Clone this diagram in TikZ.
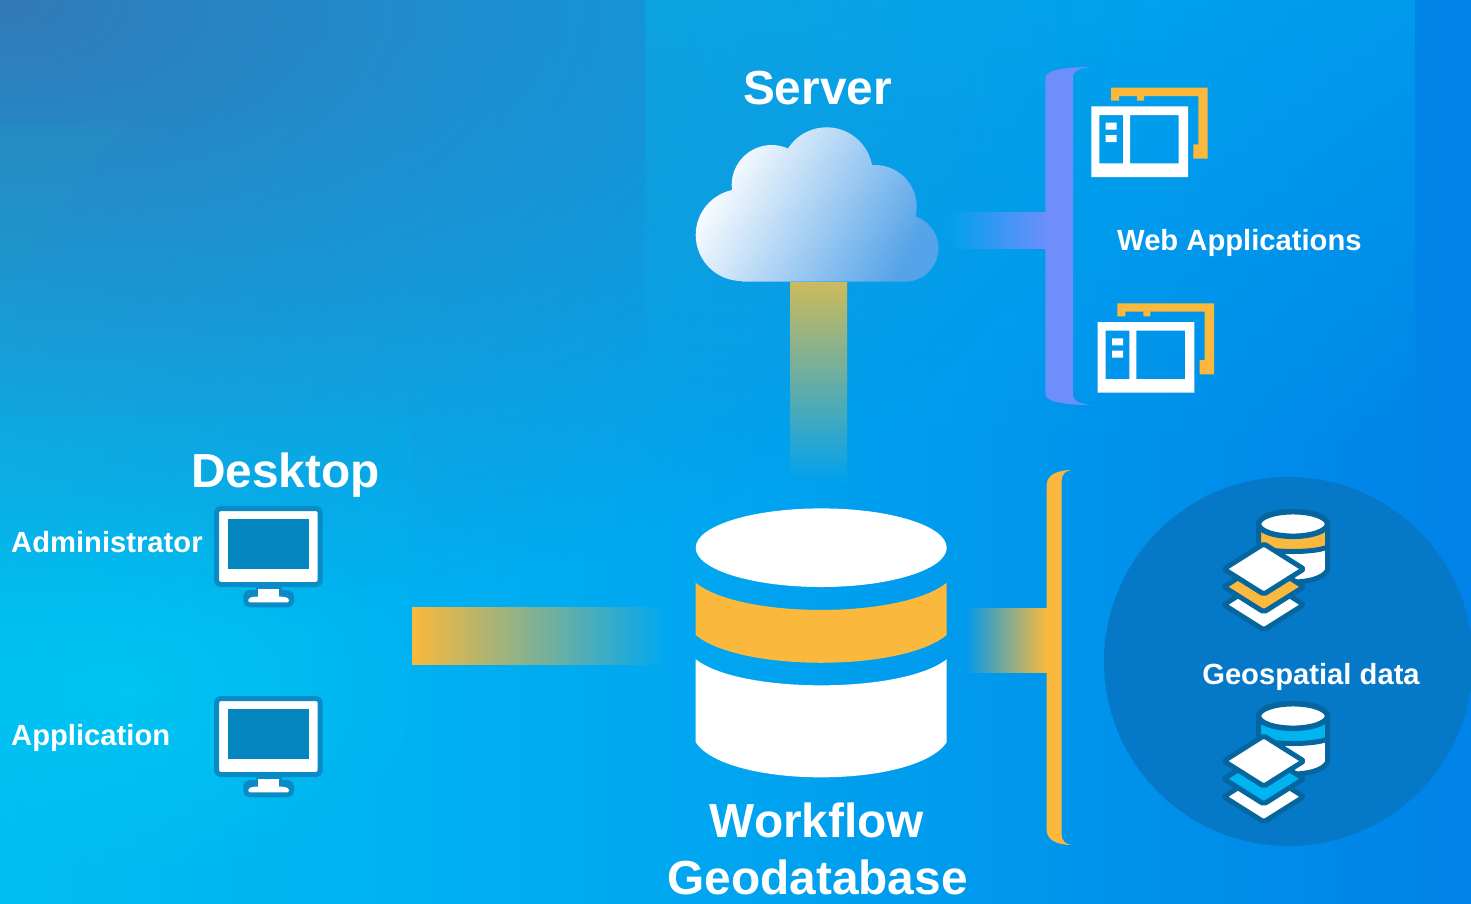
\documentclass[tikz,border=0pt]{standalone}
\usepackage{fontspec}
\setmainfont{Liberation Sans}
\usetikzlibrary{fadings}
\definecolor{accentorange}{HTML}{FAB93C}
\definecolor{accentpurple}{HTML}{6E8EFB}
\definecolor{skycyan}{HTML}{00B4F0}
\definecolor{monline}{HTML}{0A8BC6}
\definecolor{monscreen}{HTML}{0585BE}
\definecolor{stackline}{HTML}{05659E}
\definecolor{stackdisc}{HTML}{0579C8}
\definecolor{backleft}{HTML}{00BEF2}
\definecolor{backmid}{HTML}{00A8F0}
\definecolor{backright}{HTML}{0082E8}
\definecolor{cornerblue}{HTML}{3575B5}
\definecolor{cornerteal}{HTML}{1EA0BE}
\definecolor{glowcyan}{HTML}{00CDF5}
\definecolor{panelcyan}{HTML}{00B9F0}
\definecolor{serverbartop}{HTML}{CDBA5C}
\definecolor{serverbarend}{HTML}{00A1EE}
\definecolor{storebarend}{HTML}{009AED}
\definecolor{appbarend}{HTML}{00A0ED}
\definecolor{cloudblue}{HTML}{55A3E8}
\tikzfading[name=cornerfade, inner color=transparent!0, outer color=transparent!100]
\tikzfading[name=panelfade, top color=transparent!0, bottom color=transparent!100]
\tikzset{
  bigtitle/.style={text=white, font=\bfseries\fontsize{47.8}{50}\selectfont, anchor=base, inner sep=0pt},
  smalltitle/.style={text=white, font=\bfseries\fontsize{29.2}{32}\selectfont, anchor=base, inner sep=0pt},
  pics/monitor/.style={code={
    \draw[line width=5pt, draw=monline, fill=monline, rounded corners=4pt] (31.8,86.5) rectangle (77.5,98.8);
    \fill[white, rounded corners=1.5pt] (34.3,96.3) -- (34.3,92.5) -- (39,90.7) -- (70,90.7) -- (75,92.5) -- (75,96.3) -- cycle;
    \draw[line width=5pt, draw=monline, fill=white, rounded corners=4pt] (2.5,2.5) rectangle (106.2,78.5);
    \fill[monscreen] (13.7,13.3) rectangle (95.3,63.3);
    \fill[monline] (41.8,81) rectangle (67.8,90);
    \fill[white] (44.3,83) rectangle (65.3,92);
  }},
  pics/webapp/.style={code={
    \fill[accentorange] (20,.7) -- (116.7,.7) -- (116.7,71.7) -- (102.3,71.7) -- (102.3,57.3) -- (107.3,57.3) -- (107.3,9)
      -- (53,9) -- (53,13.7) -- (46,13.7) -- (46,9) -- (28,9) -- (28,13.7) -- (20,13.7) -- cycle;
    \fill[white, even odd rule] (.3,19.3) rectangle (97,90) (8.3,28) rectangle (32,76.3) (39,28) rectangle (87.7,76.3);
    \fill[white] (14.7,35.7) rectangle (25.7,42.7) (14.7,48) rectangle (25.7,55);
  }},
  pics/dbstack/.style={code={
    \fill[white] (37.5,16) -- (37.5,62) .. controls (45,78) and (99,78) .. (106.5,62) -- (106.5,16) -- cycle;
    \fill[#1] (37.5,16) -- (37.5,39) .. controls (50,45) and (94,45) .. (106.5,39) -- (106.5,16) -- cycle;
    \draw[line width=5pt, stackline] (37.5,16) -- (37.5,62) .. controls (45,78) and (99,78) .. (106.5,62) -- (106.5,16);
    \draw[line width=5pt, stackline] (37.5,39) .. controls (50,45) and (94,45) .. (106.5,39);
    \draw[line width=5.5pt, stackline, fill=white] (72,16) ellipse (34.5pt and 12.3pt);
    \foreach \shift/\tone in {35.7/white, 17.8/#1, 0/white}
      \draw[line width=5pt, stackline, fill=\tone, line join=round, rounded corners=2pt] (2.8,61+\shift) -- (42.8,35.8+\shift) -- (82.8,61+\shift) -- (42.8,86.2+\shift) -- cycle;
  }},
}
\begin{document}
\begin{tikzpicture}[x=1pt,y=-1pt]
\useasboundingbox (0,0) rectangle (1471,903);
\clip (0,0) rectangle (1471,903);
%%% backdrop
\shade[left color=backleft, right color=backmid] (0,0) rectangle (660,903);
\shade[left color=backmid, right color=backright] (660,0) rectangle (1471,903);
\fill[cornerblue, path fading=cornerfade, opacity=.95] (-1150,-640) rectangle (1150,640);
\fill[cornerteal, opacity=.16] (0,125) -- (127,125) -- (0,285) -- cycle;
\fill[glowcyan, path fading=cornerfade, opacity=.6] (-170,500) rectangle (430,880);
\fill[backleft, opacity=.12] (0,415) rectangle (412,903);
%%% the panel behind server and apps
\fill[panelcyan, path fading=panelfade, opacity=.42, rounded corners=10pt] (645,-10) rectangle (1415,460);
%%% connector bars
\coordinate (desktopbar) at (412,607);
\coordinate (dbbarleft) at (665,664);
\coordinate (cloudbar) at (790,282);
\coordinate (dbbartop) at (847,482);
\coordinate (dbbarright) at (965,608);
\coordinate (storebar) at (1047,672);
\coordinate (cloudbarright) at (950,212);
\coordinate (appbar) at (1047,248);
\shade[left color=accentorange, right color=backmid] (desktopbar) rectangle (dbbarleft);
\shade[top color=serverbartop, bottom color=serverbarend] (cloudbar) rectangle (dbbartop);
\shade[left color=storebarend, right color=accentorange] (dbbarright) rectangle (storebar);
\shade[left color=appbarend, right color=accentpurple] (cloudbarright) rectangle (appbar);
%%% the cloud
\shade[left color=white, right color=cloudblue, shading angle=60]
  (741.7,235) circle (46pt) (771.7,185) circle (40pt) (826.7,173.3) circle (46pt) (875,206.7) circle (41.7pt) (905,248.3) circle (33.4pt)
  (741.7,281.7) -- (905,281.7) -- (905,190) -- (741.7,190) -- cycle;
%%% the big database
\fill[white] (821.2,547.7) ellipse (125.5pt and 39.3pt);
\fill[accentorange] (695.7,582.7) .. controls (740,619) and (902,619) .. (946.7,582.7) -- (946.7,635) .. controls (902,672) and (740,672) .. (695.7,635) -- cycle;
\fill[white] (695.7,659.3) .. controls (740,694) and (902,694) .. (946.7,659.3) -- (946.7,742.3) .. controls (915,789) and (727,789) .. (695.7,742.3) -- cycle;
%%% brackets
\fill[accentpurple] (1095,67) .. controls (1070,67) and (1045.3,69) .. (1045.3,78) -- (1045.3,394) .. controls (1045.3,403) and (1070,405) .. (1095,405)
  .. controls (1082,405) and (1073,401) .. (1073,396) -- (1073,76) .. controls (1073,71) and (1082,67) .. (1095,67) -- cycle;
\fill[accentorange] (1073,470) .. controls (1055,470) and (1046.7,476) .. (1046.7,485) -- (1046.7,830) .. controls (1046.7,839) and (1055,845) .. (1073,845)
  .. controls (1065,845) and (1061.7,840) .. (1061.7,835) -- (1061.7,480) .. controls (1061.7,475) and (1065,470) .. (1073,470) -- cycle;
\fill[stackdisc] (1288.5,661.5) circle (184.5pt);
%%% icons
\pic (adminscreen) at (214,506) {monitor};
\pic (appscreen) at (214,696) {monitor};
\pic (webone) at (1091,87) {webapp};
\pic (webtwo) at (1097.3,302.7) {webapp};
\pic (storeone) at (1221,508) {dbstack=accentorange};
\pic (storetwo) at (1221,700) {dbstack=skycyan};
%%% labels
\node[bigtitle] (server) at (817.5,104) {Server};
\node[bigtitle] (desktop) at (285.5,487) {Desktop};
\node[bigtitle] (workflow) at (817,837) {Workflow};
\node[bigtitle] (geodatabase) at (817.5,894) {Geodatabase};
\node[smalltitle, anchor=base west] (admin) at (11,552) {Administrator};
\node[smalltitle, anchor=base west] (application) at (11,745) {Application};
\node[smalltitle, anchor=base west] (webapps) at (1117,250) {Web Applications};
\node[smalltitle] (geodata) at (1311,684) {Geospatial data};
\end{tikzpicture}
\end{document}
